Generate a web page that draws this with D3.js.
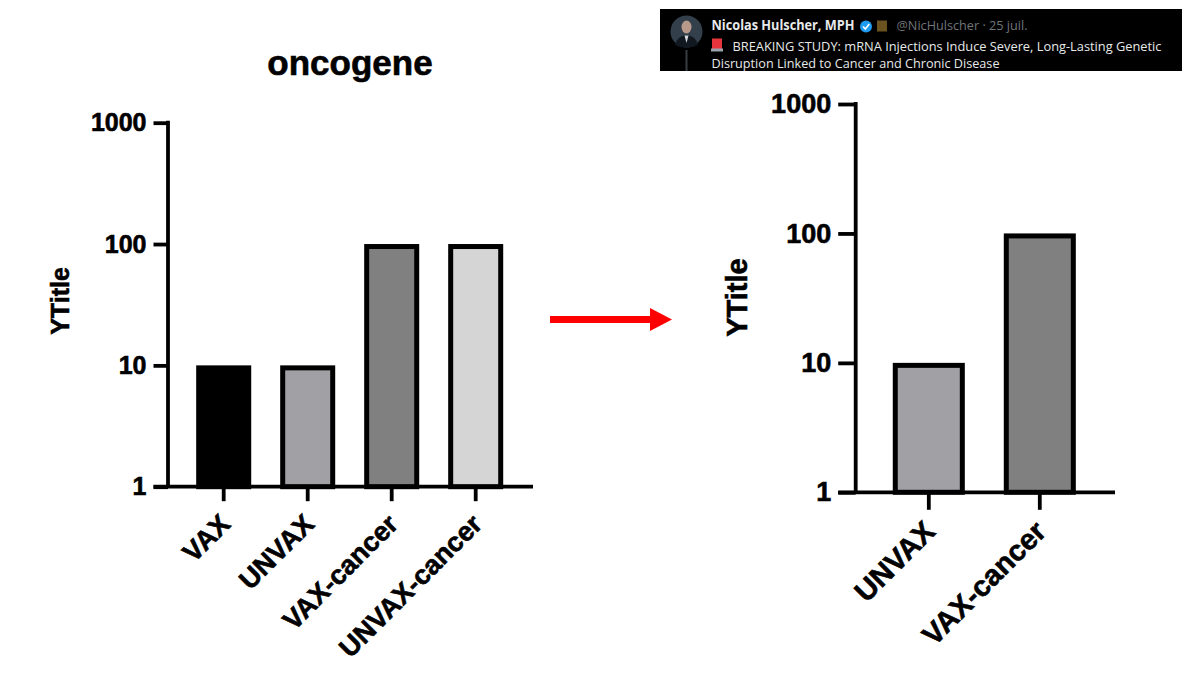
<!DOCTYPE html>
<html>
<head>
<meta charset="utf-8">
<script src="https://cdn.jsdelivr.net/npm/d3@7"></script>
<style>
  body { margin: 0; background: #fff; }
  svg { display: block; }
</style>
</head>
<body>
<div id="chart"></div>
<script>
// values (log scale, so they sit on the decades)
const leftCategories = ["VAX", "UNVAX", "VAX-cancer", "UNVAX-cancer"];
const leftValues = [10, 10, 100, 100];
const rightCategories = ["UNVAX", "VAX-cancer"];
const rightValues = [10, 100];
const yTickValues = [1, 10, 100, 1000];

const chartTitle = "oncogene";
const yTitle = "YTitle";
const tweetName = "Nicolas Hulscher, MPH";
const tweetHandle = "@NicHulscher · 25 juil.";
const tweetLines = [
  "BREAKING STUDY: mRNA Injections Induce Severe, Long-Lasting Genetic",
  "Disruption Linked to Cancer and Chronic Disease"
];

const fills = {
  "VAX": "#000000",
  "UNVAX": "#a1a1a5",
  "VAX-cancer": "#808080",
  "UNVAX-cancer": "#d5d5d5"
};

const svg = d3.select("#chart").append("svg")
  .attr("width", 1200)
  .attr("height", 690);

svg.append("rect").attr("width", 1200).attr("height", 690).attr("fill", "#fff");

const font = "'Liberation Sans', Arial, sans-serif";

// bold text a little heavier, like the exported graph
function heavy(sel, size) {
  sel.style("font-family", font)
    .style("font-weight", "bold")
    .style("font-size", size + "px")
    .attr("fill", "#000")
    .attr("stroke", "#000")
    .attr("stroke-width", 0.6);
}

function barPanel(cfg) {
  let g = svg.append("g");

  let y = d3.scaleLog().domain([1, 1000]).range([cfg.y0, cfg.y1]);
  let x = d3.scaleBand()
    .domain(cfg.cats)
    .range([cfg.x0, cfg.x1])
    .paddingInner(cfg.pad)
    .paddingOuter(cfg.pad / 2);

  let sw = 5;

  // bars
  g.selectAll("rect.bar")
    .data(cfg.cats.map((c, i) => ({ cat: c, v: cfg.vals[i] })))
    .enter()
    .append("rect")
    .attr("class", "bar")
    .attr("x", d => x(d.cat) + sw / 2)
    .attr("width", x.bandwidth() - sw)
    .attr("y", d => y(d.v) + sw / 2)
    .attr("height", d => y(1) - y(d.v) - sw / 2)
    .attr("fill", d => fills[d.cat])
    .attr("stroke", "#000")
    .attr("stroke-width", sw);

  // y axis
  let yAxis = g.append("g")
    .attr("transform", "translate(" + cfg.axisX + ",0)")
    .call(d3.axisLeft(y).tickValues(yTickValues).tickFormat(d3.format("d"))
      .tickSize(cfg.tick).tickSizeOuter(0).tickPadding(7));
  yAxis.select(".domain").remove();
  yAxis.selectAll("line").attr("stroke", "#000").attr("stroke-width", 3.8);
  heavy(yAxis.selectAll("text"), cfg.tickFont);
  g.append("line")
    .attr("x1", cfg.axisX).attr("x2", cfg.axisX)
    .attr("y1", y(1000) - 1.9).attr("y2", y(1))
    .attr("stroke", "#000").attr("stroke-width", 3.8);

  // x axis
  let xAxis = g.append("g")
    .attr("transform", "translate(0," + y(1) + ")")
    .call(d3.axisBottom(x).tickSize(cfg.tick).tickSizeOuter(0));
  xAxis.select(".domain").remove();
  xAxis.selectAll("line").attr("stroke", "#000").attr("stroke-width", 3.8);
  xAxis.selectAll("text")
    .attr("x", 0).attr("y", 0).attr("dy", 0)
    .attr("transform", "translate(8," + cfg.labelDy + ") rotate(-45)")
    .attr("text-anchor", "end");
  heavy(xAxis.selectAll("text"), cfg.labelFont);
  g.append("line")
    .attr("x1", cfg.axisX - cfg.tick).attr("x2", cfg.xEnd)
    .attr("y1", y(1)).attr("y2", y(1))
    .attr("stroke", "#000").attr("stroke-width", 3.8);

  // y title
  let t = g.append("text")
    .attr("transform", "translate(" + cfg.titleX + "," + cfg.titleY + ") rotate(-90)")
    .attr("text-anchor", "middle")
    .attr("dy", "0.35em")
    .text(yTitle);
  heavy(t, cfg.titleFont);
}

barPanel({
  cats: leftCategories, vals: leftValues,
  y0: 486.7, y1: 122.7, x0: 181.7, x1: 517.7, pad: 0.345,
  axisX: 168, xEnd: 533, tick: 14.5,
  tickFont: 25, labelFont: 27, labelDy: 39,
  titleX: 60, titleY: 301, titleFont: 25
});

barPanel({
  cats: rightCategories, vals: rightValues,
  y0: 492.3, y1: 104, x0: 873.3, x1: 1095.3, pad: 0.351,
  axisX: 855.7, xEnd: 1115, tick: 17.5,
  tickFont: 27, labelFont: 29, labelDy: 41,
  titleX: 737, titleY: 297.5, titleFont: 29
});

// title of left panel
let title = svg.append("text")
  .attr("x", 350).attr("y", 75)
  .attr("text-anchor", "middle")
  .text(chartTitle);
heavy(title, 35);

// red arrow
svg.append("rect")
  .attr("x", 550).attr("y", 316).attr("width", 102).attr("height", 7)
  .attr("fill", "#f00");
svg.append("path")
  .attr("d", "M650,308 L672,319.5 L650,331 Z")
  .attr("fill", "#f00");

// tweet header (screenshot strip)
let tw = svg.append("g");
tw.append("rect")
  .attr("x", 660).attr("y", 9).attr("width", 522).attr("height", 62)
  .attr("fill", "#000");
tw.append("line")
  .attr("x1", 686.5).attr("x2", 686.5).attr("y1", 50).attr("y2", 71)
  .attr("stroke", "#3a3d40").attr("stroke-width", 2);
tw.append("circle").attr("cx", 686.5).attr("cy", 31.5).attr("r", 16).attr("fill", "#33404c");
tw.append("ellipse").attr("cx", 686.5).attr("cy", 27).attr("rx", 5).attr("ry", 6.5).attr("fill", "#b8998a");
tw.append("path")
  .attr("d", "M675,45 Q677,36 686.5,35 Q696,36 698,45 Q693,47.5 686.5,47.5 Q680,47.5 675,45 Z")
  .attr("fill", "#111820");
tw.append("path").attr("d", "M684.5,35.5 L686.5,43 L688.5,35.5 Z").attr("fill", "#d8dde2");

const tweetFont = "'Open Sans', 'Noto Sans', sans-serif";

tw.append("text")
  .attr("x", 711.5).attr("y", 30)
  .attr("textLength", 143).attr("lengthAdjust", "spacingAndGlyphs")
  .style("font-family", tweetFont)
  .style("font-weight", "bold")
  .style("font-size", "13.5px")
  .attr("fill", "#e7e9ea")
  .text(tweetName);
tw.append("circle").attr("cx", 866).attr("cy", 26.5).attr("r", 6).attr("fill", "#1d9bf0");
tw.append("path").attr("d", "M863,26.5 L865.3,29 L869.3,24").attr("fill", "none")
  .attr("stroke", "#fff").attr("stroke-width", 1.6);
tw.append("rect").attr("x", 877).attr("y", 20.5).attr("width", 10).attr("height", 11).attr("fill", "#6b5320");
tw.append("text")
  .attr("x", 896.5).attr("y", 30)
  .attr("textLength", 131).attr("lengthAdjust", "spacingAndGlyphs")
  .style("font-family", tweetFont)
  .style("font-size", "13px")
  .attr("fill", "#71767b")
  .text(tweetHandle);

// siren emoji, drawn as a small red block
tw.append("rect").attr("x", 712).attr("y", 38.5).attr("width", 10).attr("height", 11).attr("fill", "#e8343c");
tw.append("rect").attr("x", 711).attr("y", 48.5).attr("width", 12).attr("height", 3).attr("fill", "#9aa3ab");

tw.append("text")
  .attr("x", 732.5).attr("y", 51)
  .attr("textLength", 429).attr("lengthAdjust", "spacingAndGlyphs")
  .style("font-family", tweetFont)
  .style("font-size", "13px")
  .attr("fill", "#e7e9ea")
  .text(tweetLines[0]);
tw.append("text")
  .attr("x", 711.5).attr("y", 67.5)
  .attr("textLength", 288).attr("lengthAdjust", "spacingAndGlyphs")
  .style("font-family", tweetFont)
  .style("font-size", "13px")
  .attr("fill", "#e7e9ea")
  .text(tweetLines[1]);
</script>
</body>
</html>
